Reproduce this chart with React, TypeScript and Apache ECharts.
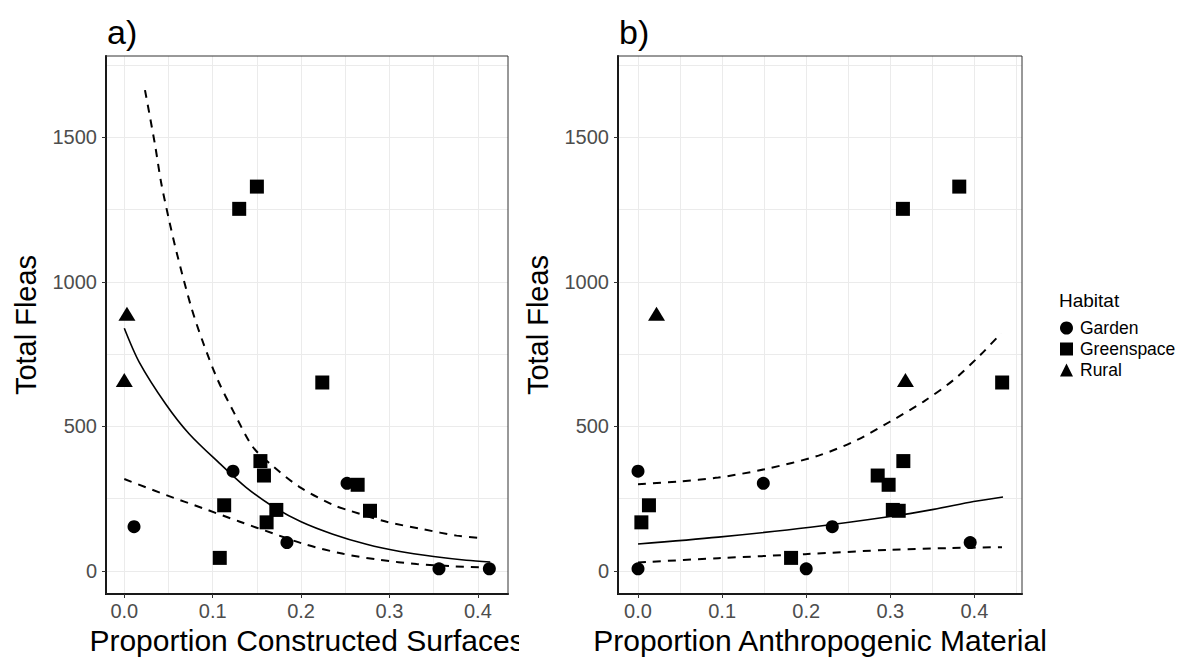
import React, { useEffect, useRef } from "react";
import * as echarts from "echarts";

const FONT = "'Liberation Sans', Arial, Helvetica, sans-serif";

// Scatter data (Total Fleas shared across panels)
const gardenY = [345, 303, 153, 98, 7, 7];
const gardenXA = [0.123, 0.252, 0.011, 0.184, 0.356, 0.413];
const gardenXB = [0.0, 0.149, 0.231, 0.395, 0.0, 0.2];

const greenY = [1330, 1253, 652, 380, 330, 298, 227, 211, 208, 168, 45];
const greenXA = [0.15, 0.13, 0.224, 0.154, 0.158, 0.264, 0.113, 0.172, 0.278, 0.161, 0.108];
const greenXB = [0.382, 0.315, 0.433, 0.3155, 0.285, 0.298, 0.013, 0.303, 0.31, 0.004, 0.182];

const ruralY = [890, 661];
const ruralXA = [0.003, 0.0];
const ruralXB = [0.022, 0.318];

// Fitted curves, panel a
const fitAX = [0, 0.017, 0.047, 0.0735, 0.1075, 0.1377, 0.168, 0.2, 0.236, 0.274, 0.312, 0.35, 0.387, 0.414];
const fitAY = [840, 722, 577, 474, 373, 289, 223, 170, 127, 92, 67, 50, 37, 31];
const upAX = [0.0234, 0.0348, 0.0415, 0.0498, 0.0593, 0.0757, 0.0894, 0.1057, 0.1244, 0.1452, 0.164, 0.198, 0.2364, 0.2553, 0.2968, 0.3382, 0.376, 0.403];
const upAY = [1664, 1474, 1347, 1226, 1101, 913, 788, 661, 546, 430, 373, 291, 228, 208, 170, 144, 122, 114];
const loAX = [0, 0.047, 0.0887, 0.13, 0.168, 0.2055, 0.2477, 0.2893, 0.3308, 0.3722, 0.405];
const loAY = [318, 263, 217, 171, 130, 91, 59, 38, 24, 16, 12];

// Fitted curves, panel b
const fitBX = [0, 0.0955, 0.2049, 0.3, 0.3515, 0.399, 0.434];
const fitBY = [93, 117, 151, 188, 213, 240, 256];
const upBX = [0, 0.048, 0.0955, 0.151, 0.2146, 0.2604, 0.3, 0.3396, 0.3753, 0.407, 0.4316];
const upBY = [300, 309, 323, 352, 399, 453, 517, 586, 661, 747, 822];
const loBX = [0, 0.0955, 0.1986, 0.3, 0.3714, 0.4328];
const loBY = [29, 44, 58, 73, 79, 82];

// Axis ticks
const xMajor = [0, 0.1, 0.2, 0.3, 0.4];
const xGridA = [0, 0.05, 0.1, 0.15, 0.2, 0.25, 0.3, 0.35, 0.4];
const xGridB = [0, 0.05, 0.1, 0.15, 0.2, 0.25, 0.3, 0.35, 0.4, 0.45];
const yMajor = [0, 500, 1000, 1500];
const yGrid = [0, 250, 500, 750, 1000, 1250, 1500, 1750];

const zip = (xs: number[], ys: number[]) => xs.map((x, i) => [x, ys[i]]);

export default function App() {
  const ref = useRef<HTMLDivElement>(null);
  useEffect(() => {
    if (!ref.current) return;
    const chart = echarts.init(ref.current, null, { renderer: "svg" });

    const grids = [
      { left: 106, top: 56, width: 402, height: 538 },
      { left: 618, top: 56, width: 404, height: 538 },
    ];
    const xRanges = [
      [-0.0207, 0.4341],
      [-0.0238, 0.4566],
    ];
    const xNames = ["Proportion Constructed Surfaces", "Proportion Anthropogenic Material"];
    const xGrids = [xGridA, xGridB];

    const xAxis: any[] = [];
    const yAxis: any[] = [];
    for (let g = 0; g < 2; g++) {
      xAxis.push({
        type: "value",
        gridIndex: g,
        min: xRanges[g][0],
        max: xRanges[g][1],
        axisLine: { show: true, onZero: false, lineStyle: { color: "#000", width: 2 } },
        axisTick: { show: true, customValues: xMajor, length: 4, lineStyle: { color: "#333", width: 1 } },
        axisLabel: {
          customValues: xMajor,
          formatter: (v: number) => v.toFixed(1),
          fontSize: 20,
          color: "#4d4d4d",
          fontFamily: FONT,
          margin: 7,
        },
        splitLine: { show: false },
        name: xNames[g],
        nameLocation: "middle",
        nameGap: 31,
        nameTextStyle: { fontSize: 30, color: "#000", fontFamily: FONT },
      });
      xAxis.push({
        type: "value",
        gridIndex: g,
        min: xRanges[g][0],
        max: xRanges[g][1],
        axisLine: { show: false },
        axisTick: { show: false, customValues: xGrids[g] },
        axisLabel: { show: false },
        splitLine: { show: true, lineStyle: { color: "#ebebeb", width: 1 } },
      });
      yAxis.push({
        type: "value",
        gridIndex: g,
        min: -80,
        max: 1782,
        axisLine: { show: true, onZero: false, lineStyle: { color: "#000", width: 2 } },
        axisTick: { show: true, customValues: yMajor, length: 4, lineStyle: { color: "#333", width: 1 } },
        axisLabel: {
          customValues: yMajor,
          formatter: (v: number) => String(Math.round(v)),
          fontSize: 20,
          color: "#4d4d4d",
          fontFamily: FONT,
          margin: 9,
        },
        splitLine: { show: false },
        name: "Total Fleas",
        nameLocation: "middle",
        nameGap: 66,
        nameTextStyle: { fontSize: 29, color: "#000", fontFamily: FONT },
      });
      yAxis.push({
        type: "value",
        gridIndex: g,
        min: -80,
        max: 1782,
        axisLine: { show: false },
        axisTick: { show: false, customValues: yGrid },
        axisLabel: { show: false },
        splitLine: { show: true, lineStyle: { color: "#ebebeb", width: 1 } },
      });
    }

    const series: any[] = [];
    const panels = [
      { g: gardenXA, gr: greenXA, r: ruralXA, fit: [fitAX, fitAY], up: [upAX, upAY], lo: [loAX, loAY] },
      { g: gardenXB, gr: greenXB, r: ruralXB, fit: [fitBX, fitBY], up: [upBX, upBY], lo: [loBX, loBY] },
    ];
    panels.forEach((p, i) => {
      const xi = i * 2;
      const yi = i * 2;
      const lineBase = {
        type: "line",
        xAxisIndex: xi,
        yAxisIndex: yi,
        showSymbol: false,
        symbol: "none",
        smooth: 0.3,
        silent: true,
        z: 3,
      };
      series.push({
        ...lineBase,
        name: "fit" + i,
        data: zip(p.fit[0], p.fit[1]),
        lineStyle: { color: "#000", width: 1.6, type: "solid" },
      });
      series.push({
        ...lineBase,
        name: "upper" + i,
        data: zip(p.up[0], p.up[1]),
        lineStyle: { color: "#000", width: 2, type: [8, 7] },
      });
      series.push({
        ...lineBase,
        name: "lower" + i,
        data: zip(p.lo[0], p.lo[1]),
        lineStyle: { color: "#000", width: 2, type: [8, 7] },
      });
      const pt = { color: "#000", opacity: 1 };
      series.push({
        type: "scatter",
        name: "Garden",
        xAxisIndex: xi,
        yAxisIndex: yi,
        symbol: "circle",
        symbolSize: 13,
        itemStyle: pt,
        data: zip(p.g, gardenY),
        z: 4,
      });
      series.push({
        type: "scatter",
        name: "Greenspace",
        xAxisIndex: xi,
        yAxisIndex: yi,
        symbol: "rect",
        symbolSize: 14,
        itemStyle: pt,
        data: zip(p.gr, greenY),
        z: 4,
      });
      series.push({
        type: "scatter",
        name: "Rural",
        xAxisIndex: xi,
        yAxisIndex: yi,
        symbol: "triangle",
        symbolSize: [17, 14],
        itemStyle: pt,
        data: zip(p.r, ruralY),
        z: 4,
      });
    });

    const option: any = {
      animation: false,
      backgroundColor: "#fff",
      textStyle: { fontFamily: FONT },
      grid: grids.map((g) => ({ ...g, containLabel: false, outerBoundsMode: "none" })),
      xAxis,
      yAxis,
      series,
      legend: {
        data: [
          { name: "Garden", icon: "circle" },
          { name: "Greenspace", icon: "rect" },
          { name: "Rural", icon: "triangle" },
        ],
        orient: "vertical",
        left: 1060,
        top: 319,
        padding: 0,
        itemWidth: 13,
        itemHeight: 13,
        itemGap: 3,
        selectedMode: false,
        textStyle: { fontSize: 17.5, color: "#000", fontFamily: FONT, padding: [0, 0, 0, 2] },
        itemStyle: { color: "#000", opacity: 1 },
      },
      graphic: [
        {
          type: "rect",
          shape: { x: 106, y: 56, width: 402, height: 538 },
          style: { fill: "none", stroke: "#333", lineWidth: 1 },
          z: 1,
          silent: true,
        },
        {
          type: "rect",
          shape: { x: 618, y: 56, width: 404, height: 538 },
          style: { fill: "none", stroke: "#333", lineWidth: 1 },
          z: 1,
          silent: true,
        },
        {
          type: "rect",
          shape: { x: 519, y: 618, width: 62, height: 39 },
          style: { fill: "#fff" },
          z: 100,
          silent: true,
        },
        {
          type: "text",
          x: 107,
          y: 32,
          style: { text: "a)", fontSize: 34, fill: "#000", fontFamily: FONT, verticalAlign: "middle" },
          z: 10,
        },
        {
          type: "text",
          x: 619,
          y: 32,
          style: { text: "b)", fontSize: 34, fill: "#000", fontFamily: FONT, verticalAlign: "middle" },
          z: 10,
        },
        {
          type: "text",
          x: 1059,
          y: 300,
          style: { text: "Habitat", fontSize: 19, fill: "#000", fontFamily: FONT, verticalAlign: "middle" },
          z: 10,
        },
      ],
    };
    chart.setOption(option);
    return () => chart.dispose();
  }, []);
  return (
    <div
      ref={ref}
      style={{ position: "fixed", left: 0, top: 0, width: 1181, height: 657, background: "#fff" }}
    />
  );
}
